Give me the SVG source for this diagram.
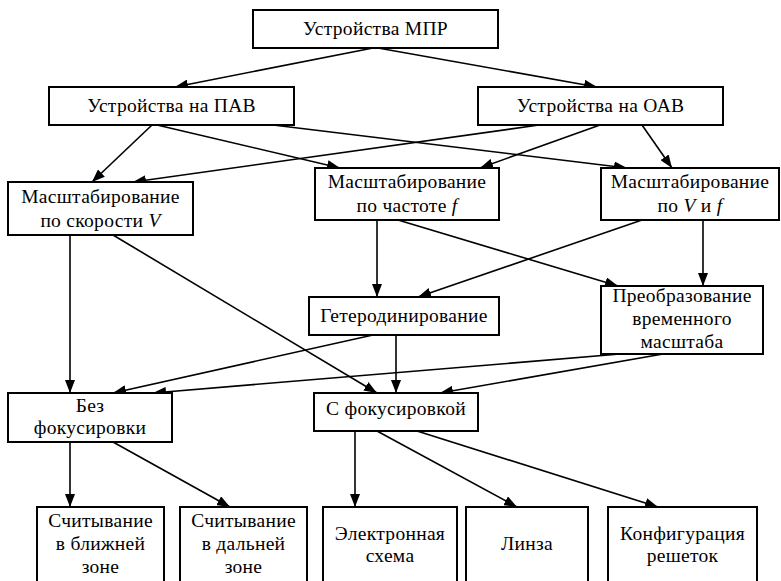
<svg xmlns="http://www.w3.org/2000/svg" width="781" height="581" viewBox="0 0 781 581">
<style>
.box{fill:#fff;stroke:#000;stroke-width:2}
.t{font-family:"Liberation Serif","Times New Roman",serif;font-size:19.5px;letter-spacing:0.3px;text-anchor:middle;fill:#000}
.i{font-style:italic}
.c line{stroke:#000;stroke-width:1.6;marker-end:url(#ah)}
</style>
<defs>
<marker id="ah" markerUnits="userSpaceOnUse" markerWidth="14" markerHeight="10" refX="13" refY="5" orient="auto">
<path d="M0,0 L13,5 L0,10 Z" fill="#000"/>
</marker>
</defs>
<rect width="781" height="581" fill="#fff"/>
<g class="c" id="connectors">
<line x1="373" y1="48" x2="175" y2="87"/>
<line x1="378" y1="48" x2="597" y2="87"/>
<line x1="152" y1="125" x2="92" y2="182"/>
<line x1="157" y1="125" x2="340" y2="168"/>
<line x1="273" y1="125" x2="627" y2="168"/>
<line x1="539" y1="125" x2="133" y2="182"/>
<line x1="600" y1="125" x2="480" y2="168"/>
<line x1="642" y1="125" x2="672" y2="168"/>
<line x1="70" y1="235" x2="70" y2="393"/>
<line x1="113" y1="235" x2="377" y2="393"/>
<line x1="377" y1="220" x2="377" y2="297"/>
<line x1="398" y1="220" x2="618" y2="286"/>
<line x1="642" y1="220" x2="418" y2="297"/>
<line x1="703" y1="220" x2="703" y2="286"/>
<line x1="373" y1="335" x2="113" y2="393"/>
<line x1="396" y1="335" x2="396" y2="393"/>
<line x1="620" y1="354" x2="153" y2="393"/>
<line x1="663" y1="354" x2="440" y2="393"/>
<line x1="70" y1="442" x2="70" y2="507"/>
<line x1="113" y1="442" x2="230" y2="507"/>
<line x1="355" y1="431" x2="355" y2="507"/>
<line x1="377" y1="431" x2="517" y2="507"/>
<line x1="417" y1="431" x2="658" y2="507"/>
</g>
<g id="mpr"><rect class="box" x="253" y="10" width="245" height="38"/><text class="t" x="375.5" y="35">Устройства МПР</text></g>
<g id="pav"><rect class="box" x="49" y="87" width="245" height="38"/><text class="t" x="171.5" y="112">Устройства на ПАВ</text></g>
<g id="oav"><rect class="box" x="478" y="87" width="245" height="38"/><text class="t" x="600.5" y="112">Устройства на ОАВ</text></g>
<g id="speed"><rect class="box" x="8" y="182" width="185" height="53"/><text class="t" x="100.5" y="203">Масштабирование</text><text class="t" x="100.5" y="227">по скорости <tspan class="i">V</tspan></text></g>
<g id="freq"><rect class="box" x="315" y="168" width="184" height="52"/><text class="t" x="407" y="188">Масштабирование</text><text class="t" x="407" y="212">по частоте <tspan class="i">f</tspan></text></g>
<g id="vf"><rect class="box" x="601" y="168" width="178" height="52"/><text class="t" x="690" y="188">Масштабирование</text><text class="t" x="690" y="212">по <tspan class="i">V</tspan> и <tspan class="i">f</tspan></text></g>
<g id="het"><rect class="box" x="309" y="297" width="190" height="38"/><text class="t" x="404" y="322">Гетеродинирование</text></g>
<g id="tsc"><rect class="box" x="601" y="286" width="162" height="68"/><text class="t" x="682" y="302">Преобразование</text><text class="t" x="682" y="325">временного</text><text class="t" x="682" y="348">масштаба</text></g>
<g id="nofocus"><rect class="box" x="8" y="393" width="164" height="49"/><text class="t" x="90" y="412">Без</text><text class="t" x="90" y="434">фокусировки</text></g>
<g id="focus"><rect class="box" x="314" y="393" width="164" height="38"/><text class="t" x="396" y="415">С фокусировкой</text></g>
<g id="near"><rect class="box" x="37" y="507" width="127" height="90"/><text class="t" x="100.5" y="527">Считывание</text><text class="t" x="100.5" y="550">в ближней</text><text class="t" x="100.5" y="573">зоне</text></g>
<g id="far"><rect class="box" x="180" y="507" width="127" height="90"/><text class="t" x="243.5" y="527">Считывание</text><text class="t" x="243.5" y="550">в дальней</text><text class="t" x="243.5" y="573">зоне</text></g>
<g id="elec"><rect class="box" x="323" y="507" width="134" height="90"/><text class="t" x="390" y="540">Электронная</text><text class="t" x="390" y="562">схема</text></g>
<g id="lens"><rect class="box" x="466" y="507" width="122" height="90"/><text class="t" x="527" y="550">Линза</text></g>
<g id="grat"><rect class="box" x="608" y="507" width="149" height="90"/><text class="t" x="682.5" y="540">Конфигурация</text><text class="t" x="682.5" y="562">решеток</text></g>
</svg>
